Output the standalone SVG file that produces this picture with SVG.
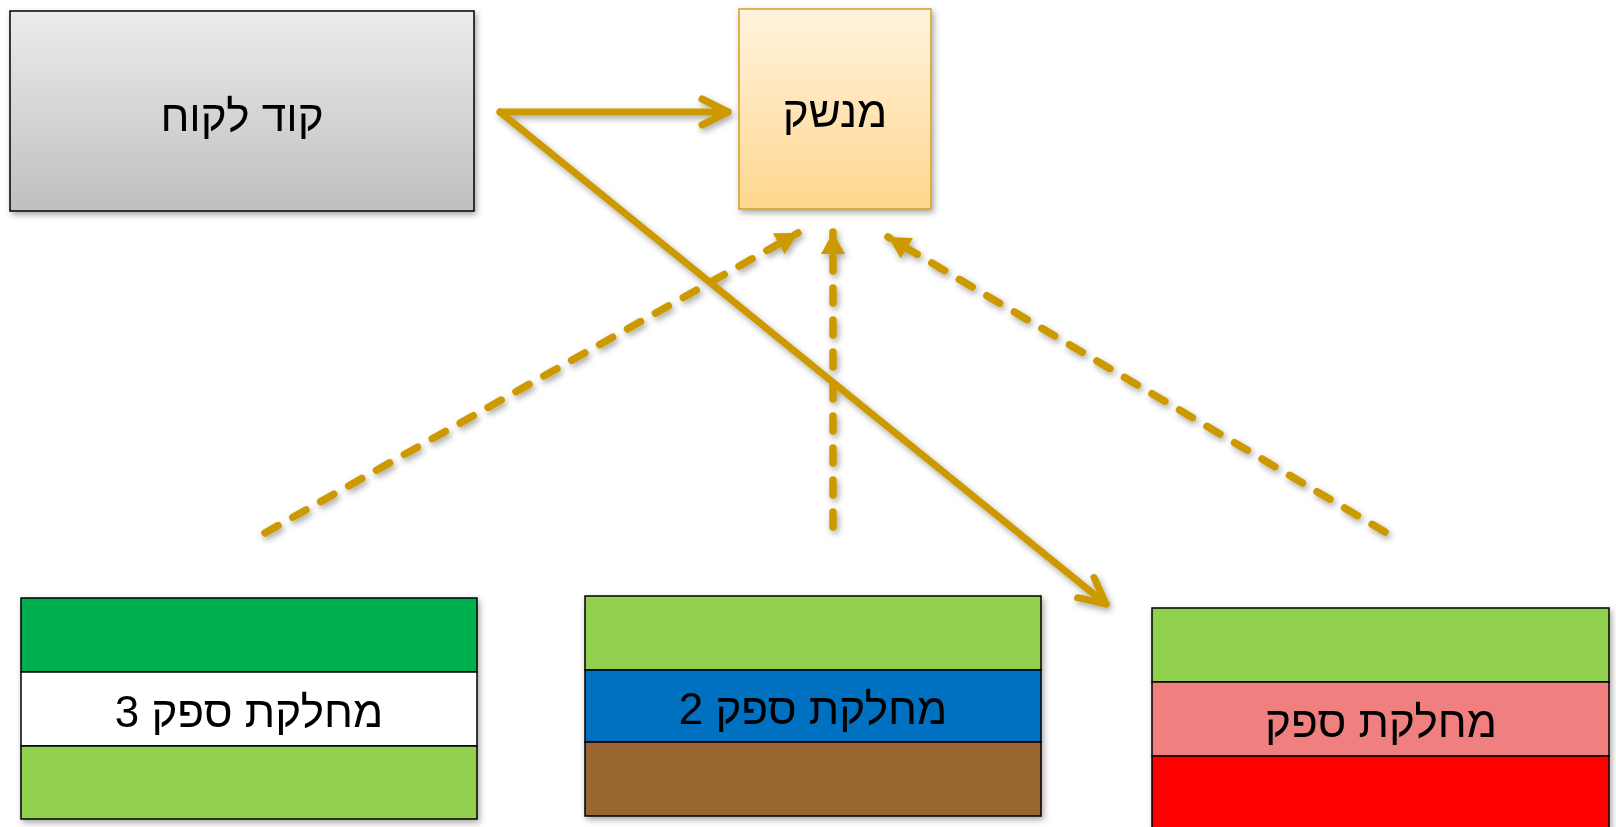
<svg xmlns="http://www.w3.org/2000/svg" width="1616" height="827" viewBox="0 0 1616 827">
<defs>
<linearGradient id="gGray" x1="0" y1="0" x2="0" y2="1"><stop offset="0" stop-color="#ececec"/><stop offset="1" stop-color="#bfbfbf"/></linearGradient>
<linearGradient id="gGold" x1="0" y1="0" x2="0" y2="1"><stop offset="0" stop-color="#fff3de"/><stop offset="1" stop-color="#ffd78e"/></linearGradient>
<filter id="sh" x="-10%" y="-10%" width="120%" height="130%"><feDropShadow dx="2" dy="3" stdDeviation="3" flood-color="#000" flood-opacity="0.35"/></filter>
<marker id="chev" markerWidth="10" markerHeight="10" refX="0" refY="0" orient="auto" markerUnits="userSpaceOnUse" overflow="visible">
<path d="M-26,-13 L0,0 L-26,13" fill="none" stroke="#cc9900" stroke-width="7" stroke-linecap="round" stroke-linejoin="round"/>
</marker>
<marker id="tri" markerWidth="10" markerHeight="10" refX="0" refY="0" orient="auto" markerUnits="userSpaceOnUse" overflow="visible">
<path d="M0,0 L-22,-12 L-22,12 Z" fill="#cc9900"/>
</marker>
<style>
.lbl{font-family:"Liberation Sans","DejaVu Sans",sans-serif;font-size:44px;fill:#000;text-anchor:middle;direction:rtl}
.bd{stroke:#000;stroke-width:1.5}
.con{fill:none;stroke:#cc9900;stroke-width:7;stroke-linecap:round}
.dash{stroke-width:7.5;stroke-dasharray:15 17}
</style>
</defs>
<rect width="1616" height="827" fill="#fff"/>
<g id="client" filter="url(#sh)">
<rect x="10" y="11" width="464" height="200" fill="url(#gGray)" class="bd"/>
<text x="242" y="131" class="lbl">קוד לקוח</text>
</g>
<g id="interface" filter="url(#sh)">
<rect x="739" y="9" width="192" height="200" fill="url(#gGold)" stroke="#d4a020" stroke-width="1.5"/>
<text x="835" y="127" class="lbl">מנשק</text>
</g>
<g id="supplier3" filter="url(#sh)">
<rect x="21" y="598" width="456" height="74" fill="#00b050" class="bd"/>
<rect x="21" y="672" width="456" height="74" fill="#fff" class="bd"/>
<rect x="21" y="746" width="456" height="73" fill="#92d050" class="bd"/>
<text x="249" y="727" class="lbl">מחלקת ספק 3</text>
</g>
<g id="supplier2" filter="url(#sh)">
<rect x="585" y="596" width="456" height="74" fill="#92d050" class="bd"/>
<rect x="585" y="670" width="456" height="72" fill="#0070c0" class="bd"/>
<rect x="585" y="742" width="456" height="74" fill="#996633" class="bd"/>
<text x="813" y="724" class="lbl">מחלקת ספק 2</text>
</g>
<g id="supplier1" filter="url(#sh)">
<rect x="1152" y="608" width="457" height="74" fill="#92d050" class="bd"/>
<rect x="1152" y="682" width="457" height="74" fill="#f08080" class="bd"/>
<rect x="1152" y="756" width="457" height="73" fill="#ff0000" class="bd"/>
<text x="1381" y="737" class="lbl">מחלקת ספק</text>
</g>
<g id="connectors" filter="url(#sh)">
<line x1="500" y1="112" x2="728" y2="112" class="con" marker-end="url(#chev)"/>
<line x1="500" y1="112" x2="1106" y2="604" class="con" marker-end="url(#chev)"/>
<line x1="265" y1="533" x2="798" y2="233" class="con dash" marker-end="url(#tri)"/>
<line x1="833" y1="527" x2="833" y2="232" class="con dash" marker-end="url(#tri)"/>
<line x1="1385" y1="532" x2="888" y2="237" class="con dash" marker-end="url(#tri)"/>
</g>
</svg>
